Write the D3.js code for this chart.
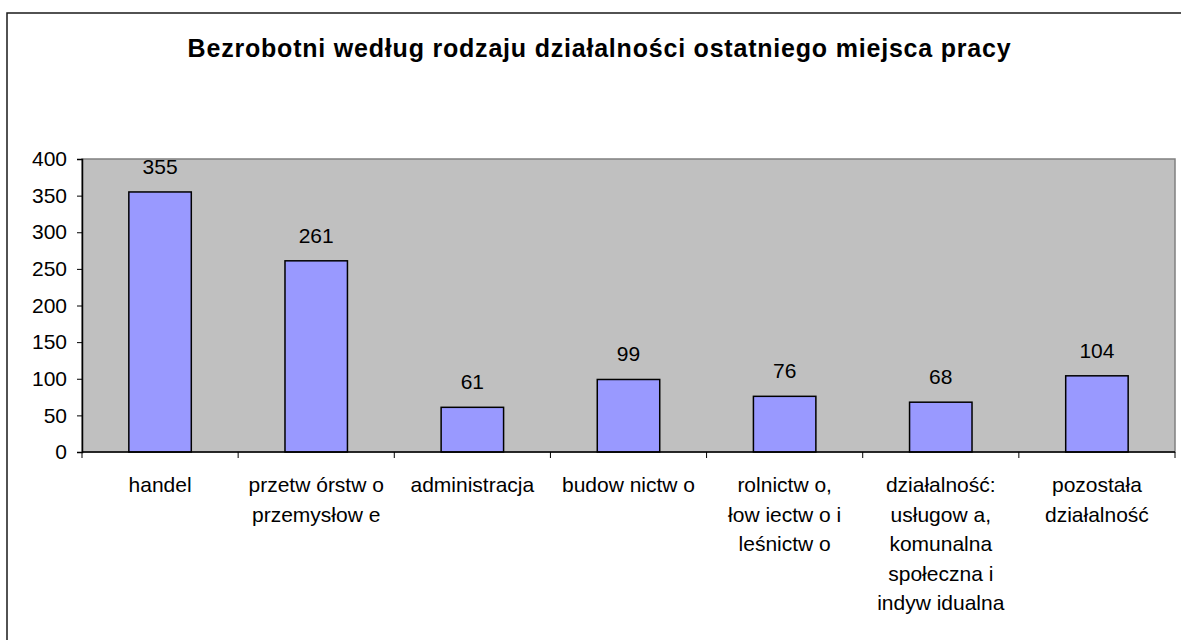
<!DOCTYPE html>
<html>
<head>
<meta charset="utf-8">
<script src="https://cdn.jsdelivr.net/npm/d3@7"></script>
<style>
html, body { margin: 0; padding: 0; background: #fff; }
svg { display: block; }
text { font-family: "Liberation Sans", Arial, sans-serif; fill: #000; }
</style>
</head>
<body>
<svg id="chart" width="1181" height="640"></svg>
<script>
const title = "Bezrobotni według rodzaju działalności ostatniego miejsca pracy";
const categories = [
  "handel",
  "przetw órstw o\nprzemysłow e",
  "administracja",
  "budow nictw o",
  "rolnictw o,\nłow iectw o i\nleśnictw o",
  "działalność:\nusługow a,\nkomunalna\nspołeczna i\nindyw idualna",
  "pozostała\ndziałalność"
];
const values = [355, 261, 61, 99, 76, 68, 104];
const yTicks = [0, 50, 100, 150, 200, 250, 300, 350, 400];

const svg = d3.select("#chart");
const W = 1181, H = 640;
const plot = { left: 82, right: 1175, top: 159, bottom: 452 };
const FS = 21;

// outer frame
svg.append("rect")
  .attr("x", 7).attr("y", 13)
  .attr("width", W + 20).attr("height", H + 20)
  .attr("fill", "#fff").attr("stroke", "#1a1a1a").attr("stroke-width", 1.5);

// title
const tt = svg.append("text")
  .attr("x", 599.5).attr("y", 57)
  .attr("text-anchor", "middle")
  .attr("font-weight", "bold")
  .attr("font-size", 25)
  .attr("letter-spacing", 0)
  .text(title);
// fit title to reference width via letter spacing
const tw = tt.node().getComputedTextLength();
const target = 823;
tt.attr("letter-spacing", (target - tw) / (title.length - 1));

const x = d3.scaleBand()
  .domain(categories.map((d, i) => i))
  .range([plot.left, plot.right])
  .paddingInner(0).paddingOuter(0);

const y = d3.scaleLinear().domain([0, 400]).range([plot.bottom, plot.top]);

// plot background
svg.append("rect")
  .attr("x", plot.left).attr("y", plot.top)
  .attr("width", plot.right - plot.left).attr("height", plot.bottom - plot.top)
  .attr("fill", "#c0c0c0").attr("stroke", "#808080").attr("stroke-width", 1.5);

// bars
const bw = x.bandwidth() * 0.4;
svg.append("g").selectAll("rect")
  .data(values)
  .join("rect")
  .attr("x", (d, i) => x(i) + (x.bandwidth() - bw) / 2)
  .attr("y", d => y(d))
  .attr("width", bw)
  .attr("height", d => y(0) - y(d))
  .attr("fill", "#9999ff")
  .attr("stroke", "#000")
  .attr("stroke-width", 1.5);

// value labels
svg.append("g").selectAll("text")
  .data(values)
  .join("text")
  .attr("x", (d, i) => x(i) + x.bandwidth() / 2)
  .attr("y", d => y(d) - 18)
  .attr("text-anchor", "middle")
  .attr("font-size", FS)
  .text(d => d);

// y axis
const yAxis = d3.axisLeft(y).tickValues(yTicks).tickSize(5).tickPadding(10);
const gy = svg.append("g").attr("transform", `translate(${plot.left},0)`).call(yAxis);
gy.select(".domain").attr("stroke", "#000").attr("stroke-width", 1.5);
gy.selectAll(".tick line").attr("stroke", "#000").attr("stroke-width", 1);
gy.selectAll(".tick text")
  .attr("font-size", FS)
  .attr("font-family", "Liberation Sans, Arial, sans-serif")
  .attr("fill", "#000");

// x axis line
svg.append("line")
  .attr("x1", plot.left).attr("x2", plot.right)
  .attr("y1", plot.bottom).attr("y2", plot.bottom)
  .attr("stroke", "#000").attr("stroke-width", 1.5);

// x ticks at category boundaries
const bounds = d3.range(categories.length + 1).map(i => plot.left + i * x.step());
svg.append("g").selectAll("line")
  .data(bounds)
  .join("line")
  .attr("x1", d => d).attr("x2", d => d)
  .attr("y1", plot.bottom).attr("y2", plot.bottom + 6)
  .attr("stroke", "#000").attr("stroke-width", 1);

// category labels
const gl = svg.append("g");
categories.forEach((c, i) => {
  const t = gl.append("text")
    .attr("text-anchor", "middle")
    .attr("font-size", FS)
    .attr("x", x(i) + x.bandwidth() / 2)
    .attr("y", 492);
  c.split("\n").forEach((line, k) => {
    t.append("tspan")
      .attr("x", x(i) + x.bandwidth() / 2)
      .attr("y", 492 + k * 29.5)
      .text(line);
  });
});
</script>
</body>
</html>
